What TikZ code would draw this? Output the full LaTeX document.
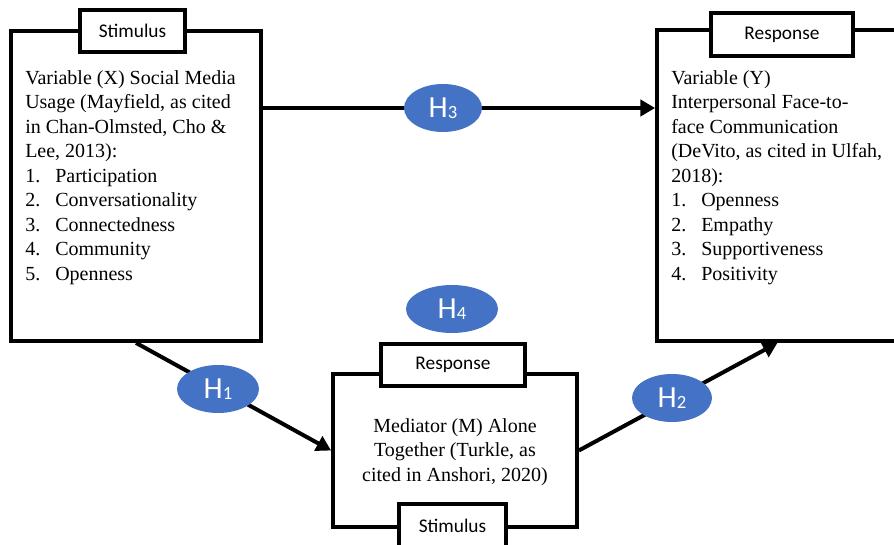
\documentclass[tikz,border=0pt]{standalone}
\usepackage{fontspec}
\setmainfont{Liberation Serif}
\newfontfamily\tagfont{Carlito}
\usetikzlibrary{arrows.meta,shapes.geometric}
\definecolor{hypoblue}{HTML}{4472C4}
\begin{document}
\begin{tikzpicture}
[x=0.75pt, y=-0.75pt,
  boxdecorate/.style={shape=rectangle,draw,line width=2.8pt,inner sep=0pt},%
  tagdecorate/.style={shape=rectangle,draw,fill=white,line width=2.8pt,inner sep=0pt,
    minimum height=32pt,font=\tagfont\fontsize{14.5}{16}\selectfont},%
  textdecorate/.style={align=left,inner sep=0pt,anchor=north west,
    font=\fontsize{15}{18.4}\selectfont},%
  hypodecorate/.style={shape=ellipse,fill=hypoblue,text=white,inner sep=0pt,
    minimum height=36pt,font=\tagfont\fontsize{23}{23}\selectfont},%
  linedecorate/.style={-,line width=3pt},%
  arrowdecorate/.style={-{Triangle[length=11pt,width=12pt]},line width=3pt}]
\useasboundingbox (0,0) rectangle (894,545);
\clip (0,0) rectangle (894,545);
%% variable boxes
\foreach \nodename/\x/\y/\w/\h in {Xbox/136/186/187.5/232.5, Ybox/783.5/185.5/189.75/233.25,
  Mbox/455/450.5/183/114.75} {
  \node (\nodename) at (\x,\y) [boxdecorate,minimum width=\w pt,minimum height=\h pt] {};
}
%% stimulus and response tags
\foreach \nodename/\x/\y/\w/\tagtext in {tagX/132.5/31/78.75/Stimulus, tagY/782/34.5/106.5/Response,
  tagMtop/453/365/108/Response, tagMbottom/452.5/525.5/80.25/Stimulus} {
  \node (\nodename) at (\x,\y) [tagdecorate,minimum width=\w pt] {\tagtext};
}
%% texts of the boxes
\node (Xtext) at (25,70) [textdecorate] {Variable (X) Social Media\\
  Usage (Mayfield, as cited\\ in Chan-Olmsted, Cho \&\\ Lee, 2013):\\
  \makebox[22.5pt][l]{1.}Participation\\ \makebox[22.5pt][l]{2.}Conversationality\\
  \makebox[22.5pt][l]{3.}Connectedness\\ \makebox[22.5pt][l]{4.}Community\\
  \makebox[22.5pt][l]{5.}Openness};
\node (Ytext) at (671,70) [textdecorate] {Variable (Y)\\ Interpersonal Face-to-\\
  face Communication\\ (DeVito, as cited in Ulfah,\\ 2018):\\
  \makebox[22.5pt][l]{1.}Openness\\ \makebox[22.5pt][l]{2.}Empathy\\
  \makebox[22.5pt][l]{3.}Supportiveness\\ \makebox[22.5pt][l]{4.}Positivity};
\node (Mtext) at (455,452) [textdecorate,align=center,anchor=center] {Mediator (M) Alone\\
  Together (Turkle, as\\ cited in Anshori, 2020)};
%% edges or lines
\coordinate (lineH3) at (0,108);
\draw[arrowdecorate] (Xbox.east |- lineH3) -- (Ybox.west |- lineH3);
\draw[arrowdecorate] (Xbox.south) -- (Mbox.west);
\draw[arrowdecorate] (Mbox.east) -- ([xshift=-4.5pt]Ybox.south);
%% hypotheses
\foreach \nodename/\x/\y/\w/\digit in {H1/218/389/61.5/1, H2/672/398/60/2, H3/443/108/58.5/3,
  H4/452/309/69/4} {
  \node (\nodename) at (\x,\y) [hypodecorate,minimum width=\w pt]
    {H\raisebox{-1pt}{\fontsize{14}{14}\selectfont\digit}};
}
\end{tikzpicture}
\end{document}
